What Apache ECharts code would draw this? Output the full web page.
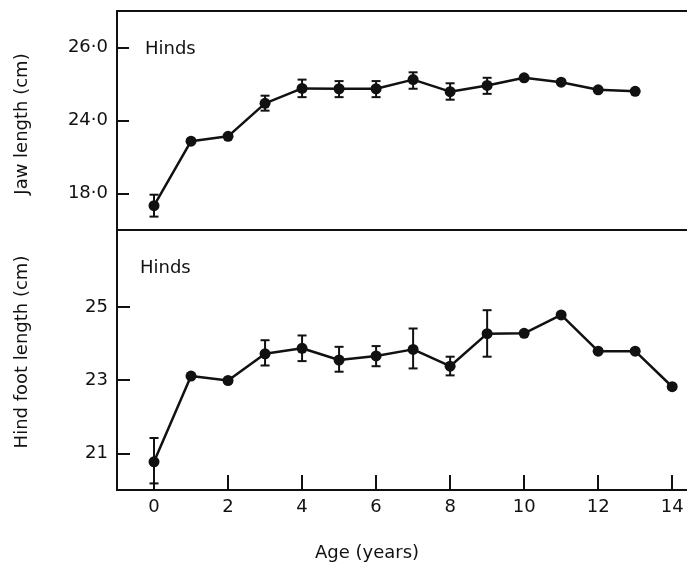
<!DOCTYPE html>
<html>
<head>
<meta charset="utf-8">
<script src="https://cdn.jsdelivr.net/npm/echarts@6/dist/echarts.min.js"></script>
<style>html,body{margin:0;padding:0;background:#fff;}#c{width:687px;height:565px;}</style>
</head>
<body>
<div id="c"></div>
<script>
// ---- data ----
const jawAges = [0,1,2,3,4,5,6,7,8,9,10,11,12,13];
const jawMean = [17.0, 22.3, 22.7, 24.47, 24.88, 24.87, 24.87, 25.12, 24.79, 24.96, 25.17, 25.05, 24.84, 24.80];
const jawLow  = [16.1, null, null, 24.27, 24.64, 24.64, 24.64, 24.87, 24.57, 24.73, null, null, null, null];
const jawHigh = [17.9, null, null, 24.68, 25.12, 25.08, 25.08, 25.32, 25.02, 25.17, null, null, null, null];

const footAges = [0,1,2,3,4,5,6,7,8,9,10,11,12,13,14];
const footMean = [20.77, 23.11, 22.99, 23.72, 23.87, 23.55, 23.66, 23.84, 23.38, 24.27, 24.28, 24.78, 23.79, 23.79, 22.82];
const footLow  = [20.18, null, null, 23.40, 23.52, 23.23, 23.38, 23.32, 23.13, 23.64, null, null, null, null, null];
const footHigh = [21.42, null, null, 24.09, 24.22, 23.91, 23.93, 24.41, 23.64, 24.91, null, null, null, null, null];

const xTicks = [0,2,4,6,8,10,12,14];
const jawTicks = [18, 24, 26];
const footTicks = [21, 23, 25];

// ---- broken jaw axis: below 24 cm the scale is compressed 3x ----
const BREAK = 24, SQUEEZE = 3;
const disp = v => v >= BREAK ? v : BREAK - (BREAK - v) / SQUEEZE;
const undisp = d => d >= BREAK ? d : BREAK - (BREAK - d) * SQUEEZE;

const INK = '#111';
const FONT = 'DejaVu Sans';
const FS = 18;
const FONTSTR = FS + 'px "DejaVu Sans"';

function errRender(params, api) {
  const x = api.value(0), lo = api.value(1), hi = api.value(2);
  const p1 = api.coord([x, lo]), p2 = api.coord([x, hi]);
  const w = 4.5;
  const st = {stroke: INK, lineWidth: 2};
  return {type: 'group', children: [
    {type: 'line', shape: {x1: p1[0], y1: p1[1], x2: p2[0], y2: p2[1]}, style: st},
    {type: 'line', shape: {x1: p1[0]-w, y1: p1[1], x2: p1[0]+w, y2: p1[1]}, style: st},
    {type: 'line', shape: {x1: p2[0]-w, y1: p2[1], x2: p2[0]+w, y2: p2[1]}, style: st}
  ]};
}

const jawErr = [], footErr = [];
jawAges.forEach((a, i) => { if (jawLow[i] != null) jawErr.push([a, disp(jawLow[i]), disp(jawHigh[i])]); });
footAges.forEach((a, i) => { if (footLow[i] != null) footErr.push([a, footLow[i], footHigh[i]]); });

const axLine = {show: true, onZero: false, lineStyle: {color: INK, width: 2}};
const lblStyle = {color: INK, fontFamily: FONT, fontSize: FS};

const chart = echarts.init(document.getElementById('c'), null, {renderer: 'canvas'});
chart.setOption({
  animation: false,
  backgroundColor: '#fff',
  grid: [
    {left: 117, right: 0, top: 11, height: 219},
    {left: 117, right: 0, top: 230, height: 260}
  ],
  xAxis: [
    {gridIndex: 0, type: 'value', min: -1, max: 14.4, position: 'bottom', axisLine: axLine,
     axisTick: {show: false}, axisLabel: {show: false}, splitLine: {show: false}},
    {gridIndex: 0, type: 'value', min: -1, max: 14.4, position: 'top', axisLine: axLine,
     axisTick: {show: false}, axisLabel: {show: false}, splitLine: {show: false}},
    {gridIndex: 1, type: 'value', min: -1, max: 14.4, position: 'bottom', axisLine: axLine,
     axisTick: {show: true, inside: true, length: 15, customValues: xTicks, lineStyle: {color: INK, width: 2}},
     axisLabel: Object.assign({customValues: xTicks, margin: 8}, lblStyle),
     splitLine: {show: false}}
  ],
  yAxis: [
    {gridIndex: 0, type: 'value', min: 21, max: 27, position: 'left', axisLine: axLine,
     axisTick: {show: true, inside: true, length: 12, customValues: jawTicks.map(disp), lineStyle: {color: INK, width: 2}},
     axisLabel: Object.assign({customValues: jawTicks.map(disp), margin: 9,
       formatter: v => undisp(v).toFixed(1).replace('.', '·')}, lblStyle),
     splitLine: {show: false}},
    {gridIndex: 1, type: 'value', min: 20, max: 27.1, position: 'left', axisLine: axLine,
     axisTick: {show: true, inside: true, length: 13, customValues: footTicks, lineStyle: {color: INK, width: 2}},
     axisLabel: Object.assign({customValues: footTicks, margin: 9}, lblStyle),
     splitLine: {show: false}}
  ],
  series: [
    {type: 'line', xAxisIndex: 0, yAxisIndex: 0,
     data: jawAges.map((a, i) => [a, disp(jawMean[i])]),
     symbol: 'circle', symbolSize: 11, lineStyle: {color: INK, width: 2.5}, itemStyle: {color: INK}, z: 3},
    {type: 'custom', xAxisIndex: 0, yAxisIndex: 0, data: jawErr, renderItem: errRender,
     encode: {x: 0, y: [1, 2]}, z: 2},
    {type: 'line', xAxisIndex: 2, yAxisIndex: 1,
     data: footAges.map((a, i) => [a, footMean[i]]),
     symbol: 'circle', symbolSize: 11, lineStyle: {color: INK, width: 2.5}, itemStyle: {color: INK}, z: 3},
    {type: 'custom', xAxisIndex: 2, yAxisIndex: 1, data: footErr, renderItem: errRender,
     encode: {x: 0, y: [1, 2]}, z: 2}
  ],
  graphic: [
    {type: 'text', x: 22, y: 124, rotation: Math.PI / 2,
     style: {text: 'Jaw length (cm)', fill: INK, font: FONTSTR, textAlign: 'center', textVerticalAlign: 'middle'}},
    {type: 'text', x: 22, y: 352, rotation: Math.PI / 2,
     style: {text: 'Hind foot length (cm)', fill: INK, font: FONTSTR, textAlign: 'center', textVerticalAlign: 'middle'}},
    {type: 'text', x: 145, y: 49,
     style: {text: 'Hinds', fill: INK, font: FONTSTR, textAlign: 'left', textVerticalAlign: 'middle'}},
    {type: 'text', x: 140, y: 268,
     style: {text: 'Hinds', fill: INK, font: FONTSTR, textAlign: 'left', textVerticalAlign: 'middle'}},
    {type: 'text', x: 367, y: 553,
     style: {text: 'Age (years)', fill: INK, font: FONTSTR, textAlign: 'center', textVerticalAlign: 'middle'}}
  ]
});
</script>
</body>
</html>
